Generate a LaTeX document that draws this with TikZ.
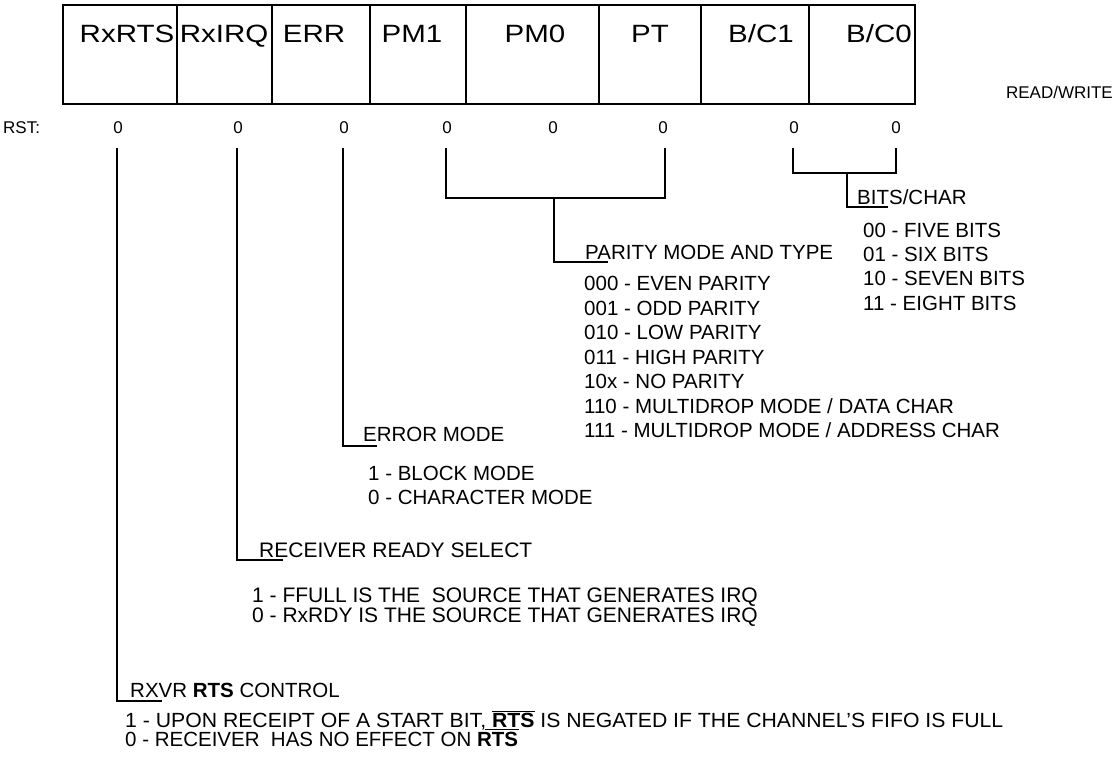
\documentclass[tikz,border=0pt]{standalone}
\usepackage{fontspec}
\setmainfont{Liberation Sans}
\usepackage{graphicx}
\begin{document}
\begin{tikzpicture}[x=1pt,y=-1pt,
  cell/.style={draw,line width=1.5pt,minimum height=99pt,inner sep=0pt,anchor=north west},
  reg/.style={font=\fontsize{25}{30}\selectfont,anchor=base,inner sep=0pt},
  txt/.style={font=\fontsize{20.5}{24}\selectfont,anchor=base west,inner sep=0pt},
  txtb/.style={font=\fontsize{21}{24}\selectfont,anchor=base west,inner sep=0pt},
  rst/.style={font=\fontsize{17}{20}\selectfont,anchor=base,inner sep=0pt},
  lead/.style={line width=1.4pt}]
\useasboundingbox (0,0) rectangle (1118,763);
% register cells
\node[cell,minimum width=114pt] (c7) at (62,4) {};
\node[cell,minimum width=95pt] (c6) at (176,4) {};
\node[cell,minimum width=98pt] (c5) at (271,4) {};
\node[cell,minimum width=96pt] (c4) at (369,4) {};
\node[cell,minimum width=133pt] (c3) at (465,4) {};
\node[cell,minimum width=102pt] (c2) at (598,4) {};
\node[cell,minimum width=108pt] (c1) at (700,4) {};
\node[cell,minimum width=106pt] (c0) at (808,4) {};
% labels
\node[reg] (l7) at (127,42) {\scalebox{1.18}[1]{RxRTS}};
\node[reg] (l6) at (224,42) {\scalebox{1.18}[1]{RxIRQ}};
\node[reg] (l5) at (314,42) {\scalebox{1.18}[1]{ERR}};
\node[reg] (l4) at (412,42) {\scalebox{1.18}[1]{PM1}};
\node[reg] (l3) at (535,42) {\scalebox{1.18}[1]{PM0}};
\node[reg] (l2) at (650,42) {\scalebox{1.18}[1]{PT}};
\node[reg] (l1) at (761,42) {\scalebox{1.18}[1]{B/C1}};
\node[reg] (l0) at (879,42) {\scalebox{1.18}[1]{B/C0}};
\node[font=\fontsize{17}{20}\selectfont,anchor=base east,inner sep=0pt] (rw) at (1113,98) {READ/WRITE};
% reset row
\node[rst,anchor=base west] (rstl) at (3,133) {RST:};
\node[rst] (z7) at (118,133) {0};
\node[rst] (z6) at (238,133) {0};
\node[rst] (z5) at (344,133) {0};
\node[rst] (z4) at (447,133) {0};
\node[rst] (z3) at (553,133) {0};
\node[rst] (z2) at (663,133) {0};
\node[rst] (z1) at (794,133) {0};
\node[rst] (z0) at (896,133) {0};
% bits/char
\coordinate (b1t) at (793,148); \coordinate (b1b) at (793,173);
\coordinate (b0t) at (896,148); \coordinate (b0b) at (896,173);
\coordinate (bm) at (847,173); \coordinate (bc) at (847,207); \coordinate (be) at (888,207);
\draw[lead] (b1t) -- (b1b) -- (b0b) -- (b0t);
\draw[lead] (bm) -- (bc) -- (be);
\node[txt] (bh) at (857,204) {BITS/CHAR};
\node[txt] (b00) at (863,237) {00 - FIVE BITS};
\node[txt] (b01) at (863,261) {01 - SIX BITS};
\node[txt] (b10) at (863,285) {10 - SEVEN BITS};
\node[txt] (b11) at (863,310) {11 - EIGHT BITS};
% parity
\coordinate (p1t) at (446,148); \coordinate (p1b) at (446,198);
\coordinate (p0t) at (665,148); \coordinate (p0b) at (665,198);
\coordinate (pm) at (554,198); \coordinate (pc) at (554,262); \coordinate (pe) at (608,262);
\draw[lead] (p1t) -- (p1b) -- (p0b) -- (p0t);
\draw[lead] (pm) -- (pc) -- (pe);
\node[txt] (ph) at (585,259) {PARITY MODE AND TYPE};
\node[txt] (pa) at (584,290) {000 - EVEN PARITY};
\node[txt] (pb) at (584,315) {001 - ODD PARITY};
\node[txt] (pcc) at (584,339) {010 - LOW PARITY};
\node[txt] (pd) at (584,364) {011 - HIGH PARITY};
\node[txt] (pf) at (584,388) {10x - NO PARITY};
\node[txt] (pg) at (584,413) {110 - MULTIDROP MODE / DATA CHAR};
\node[txt] (ph2) at (584,437) {111 - MULTIDROP MODE / ADDRESS CHAR};
% error mode
\coordinate (et) at (343,148); \coordinate (ec) at (343,446); \coordinate (ee) at (377,446);
\draw[lead] (et) -- (ec) -- (ee);
\node[txt] (eh) at (363,441) {ERROR MODE};
\node[txt] (ea) at (368,480) {1 - BLOCK MODE};
\node[txt] (eb) at (368,504) {0 - CHARACTER MODE};
% receiver ready select
\coordinate (rt) at (237,148); \coordinate (rc) at (237,560); \coordinate (re) at (283,560);
\draw[lead] (rt) -- (rc) -- (re);
\node[txtb] (rh) at (259,557) {RECEIVER READY SELECT};
\node[txtb] (ra) at (252,602) {1 - FFULL IS THE~ SOURCE THAT GENERATES IRQ};
\node[txtb] (rb) at (252,622) {0 - RxRDY IS THE SOURCE THAT GENERATES IRQ};
% RTS control
\coordinate (xt) at (117,148); \coordinate (xc) at (117,701); \coordinate (xe) at (162,701);
\draw[lead] (xt) -- (xc) -- (xe);
\node[txt] (xh) at (130,697) {RXVR \textbf{RTS} CONTROL};
\node[txt] (xa) at (125,727) {\resizebox{878pt}{\height}{1 - UPON RECEIPT OF A START BIT, $\overline{\mbox{\textbf{RTS}}}$ IS NEGATED IF THE CHANNEL'S FIFO IS FULL}};
\node[txt] (xb) at (125,746) {0 - RECEIVER~ HAS NO EFFECT ON \textbf{RTS}};
\draw[line width=1pt] (485,729) -- (519,729);
\end{tikzpicture}
\end{document}
